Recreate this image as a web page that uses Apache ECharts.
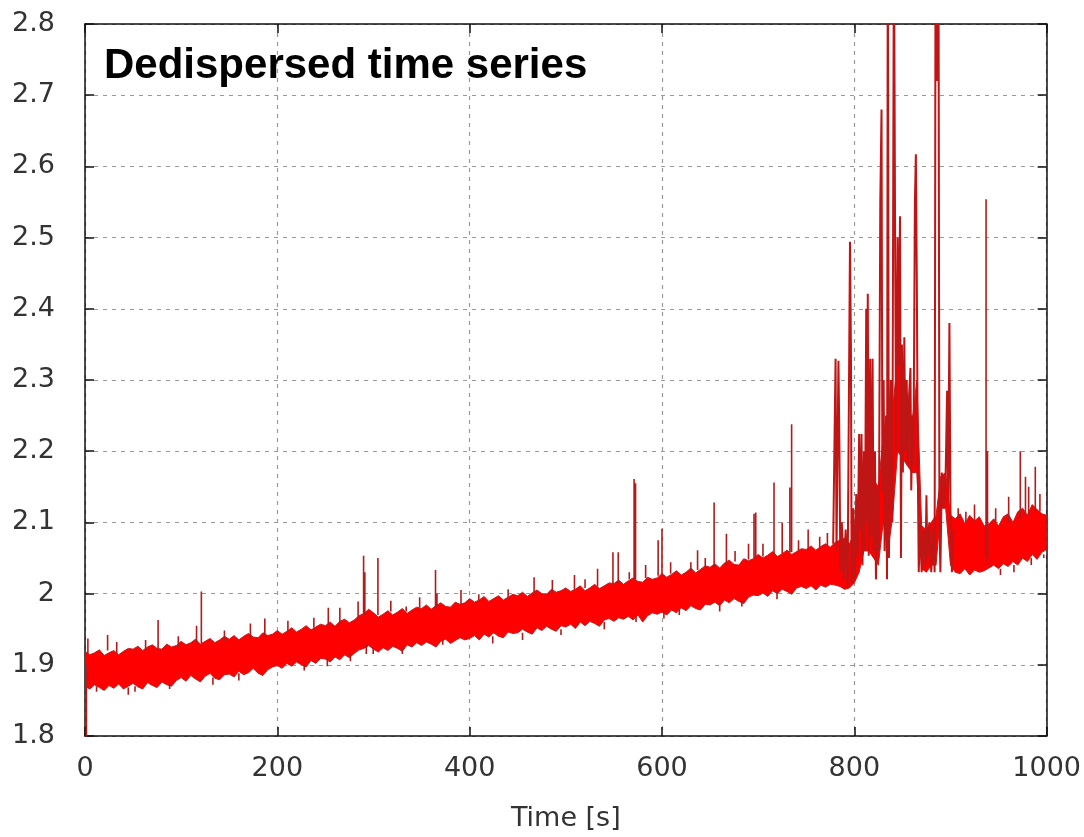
<!DOCTYPE html>
<html><head><meta charset="utf-8">
<script src="https://cdn.jsdelivr.net/npm/echarts@6/dist/echarts.min.js"></script>
<style>html,body{margin:0;padding:0;background:#fff}#c{width:1084px;height:837px}</style>
</head><body><div id="c"></div>
<script>
// ---- data ----
const xTicks = [0, 200, 400, 600, 800, 1000];
const yTicks = [1.8, 1.9, 2.0, 2.1, 2.2, 2.3, 2.4, 2.5, 2.6, 2.7, 2.8];
const bandStep = 5; // seconds between envelope samples, t = 0..1000
const bandHi = [
 1.919,1.914,1.917,1.921,1.913,1.917,1.920,1.914,1.919,1.923,
 1.922,1.926,1.920,1.925,1.928,1.923,1.922,1.929,1.925,1.927,
 1.933,1.928,1.931,1.936,1.929,1.933,1.937,1.931,1.935,1.940,
 1.936,1.941,1.935,1.940,1.944,1.939,1.938,1.945,1.941,1.943,
 1.948,1.943,1.947,1.952,1.946,1.950,1.955,1.949,1.953,1.957,
 1.955,1.960,1.954,1.961,1.964,1.959,1.963,1.969,1.972,1.978,
 1.973,1.967,1.971,1.976,1.970,1.974,1.979,1.972,1.977,1.981,
 1.979,1.984,1.978,1.983,1.987,1.982,1.981,1.988,1.985,1.987,
 1.993,1.988,1.991,1.996,1.989,1.993,1.997,1.991,1.995,1.999,
 1.997,2.002,1.996,2.001,2.005,2.000,1.999,2.006,2.002,2.004,
 2.008,2.003,2.006,2.011,2.004,2.008,2.013,2.007,2.011,2.015,
 2.014,2.019,2.013,2.018,2.022,2.017,2.016,2.023,2.020,2.022,
 2.028,2.023,2.027,2.032,2.026,2.030,2.036,2.029,2.034,2.039,
 2.037,2.042,2.036,2.043,2.047,2.041,2.040,2.049,2.046,2.049,
 2.055,2.050,2.054,2.059,2.052,2.056,2.061,2.055,2.059,2.063,
 2.062,2.067,2.061,2.066,2.070,2.065,2.072,2.075,2.078,2.070,
 2.085,2.120,2.150,2.180,2.160,2.150,2.220,2.200,2.260,2.330,
 2.320,2.280,2.240,2.300,2.095,2.090,2.100,2.110,2.165,2.170,
 2.110,2.105,2.112,2.098,2.110,2.102,2.108,2.095,2.098,2.105,
 2.095,2.108,2.112,2.100,2.115,2.120,2.110,2.125,2.118,2.112,
 2.110
];
const bandLo = [
 1.870,1.866,1.872,1.868,1.864,1.871,1.867,1.873,1.866,1.870,
 1.874,1.869,1.866,1.875,1.871,1.868,1.876,1.872,1.870,1.878,
 1.882,1.877,1.885,1.880,1.876,1.884,1.888,1.881,1.879,1.886,
 1.887,1.883,1.891,1.886,1.889,1.895,1.888,1.885,1.893,1.897,
 1.899,1.895,1.902,1.898,1.904,1.900,1.897,1.906,1.902,1.909,
 1.908,1.904,1.911,1.907,1.914,1.910,1.916,1.921,1.923,1.927,
 1.922,1.918,1.924,1.920,1.926,1.923,1.919,1.928,1.925,1.931,
 1.927,1.932,1.929,1.925,1.933,1.936,1.930,1.934,1.938,1.935,
 1.937,1.941,1.935,1.943,1.939,1.945,1.940,1.938,1.946,1.944,
 1.945,1.950,1.946,1.943,1.952,1.948,1.954,1.950,1.947,1.955,
 1.953,1.957,1.951,1.960,1.955,1.961,1.958,1.954,1.963,1.965,
 1.961,1.966,1.964,1.968,1.963,1.970,1.960,1.969,1.973,1.971,
 1.974,1.970,1.977,1.973,1.980,1.976,1.983,1.979,1.977,1.985,
 1.984,1.988,1.983,1.991,1.987,1.993,1.989,1.986,1.995,1.998,
 1.997,2.001,1.996,2.004,2.000,2.006,2.003,1.999,2.008,2.010,
 2.007,2.011,2.005,2.012,2.009,2.013,2.012,2.010,2.006,2.008,
 2.015,2.030,2.060,2.060,2.050,2.040,2.100,2.060,2.110,2.200,
 2.190,2.180,2.170,2.170,2.035,2.030,2.040,2.040,2.120,2.120,
 2.040,2.030,2.028,2.035,2.026,2.033,2.030,2.032,2.036,2.040,
 2.035,2.042,2.038,2.045,2.040,2.050,2.045,2.055,2.048,2.058,
 2.062
];
// isolated spikes: time, value where the stroke starts, value where it ends
const spikeT = [1.5,3,12,23.5,33,45,52,63,76,88,97,116,121,133,145,160,172,187,211,228,238,252,253,265,276,284,289.7,291,292.5,299.7,304.6,318,330,334,348,364.5,366,372,391,409.5,424,440,455,467,486,495,509,520,533,540,549,554.5,566,571,572.5,573,583,596,600,602,609,618,630,637,645,654.2,660,667,676,683,690,695.7,697.5,705,716.5,719.6,725,733,734.8,742,752,764,772,908,916,925,937,938.5,947,952,960.5,966,972.6,978,981.3,984,988.2,993,997];
const spikeFrom = [1.90,1.915,1.87,1.92,1.915,1.868,1.87,1.92,1.922,1.875,1.925,1.93,1.93,1.882,1.932,1.888,1.938,1.94,1.946,1.90,1.952,1.91,1.955,1.958,1.915,1.965,1.97,1.97,1.93,1.925,1.97,1.975,1.925,1.975,1.98,1.98,1.98,1.935,1.985,1.99,1.94,1.995,1.945,1.997,2.0,1.95,2.005,2.008,2.01,1.96,2.012,2.014,2.02,2.02,2.02,1.97,2.022,2.025,2.025,1.975,2.028,1.978,2.032,2.033,2.035,2.036,1.985,2.04,2.045,1.99,2.048,2.05,2.05,2.052,2.054,2.003,2.056,2.058,2.058,2.06,2.062,2.065,2.068,2.105,2.10,2.10,2.05,2.04,2.10,2.035,2.10,2.04,2.105,2.11,2.11,2.05,2.115,2.115,2.055];
const spikeTo = [1.78,1.937,1.862,1.942,1.932,1.858,1.862,1.935,1.963,1.866,1.94,1.955,2.003,1.872,1.948,1.878,1.958,1.965,1.962,1.892,1.966,1.898,1.98,1.98,1.905,1.989,2.053,2.03,1.915,1.915,2.05,1.99,1.915,1.982,1.995,2.033,2.0,1.928,2.005,1.999,1.93,2.006,1.935,2.023,2.019,1.942,2.026,2.02,2.035,1.95,2.058,2.058,2.03,2.161,2.155,1.96,2.04,2.075,2.091,1.965,2.044,1.97,2.044,2.061,2.05,2.128,1.975,2.084,2.06,1.982,2.07,2.112,2.114,2.07,2.156,1.992,2.10,2.149,2.238,2.075,2.09,2.08,2.085,2.12,2.115,2.125,2.554,2.20,2.12,2.026,2.136,2.03,2.2,2.164,2.15,2.04,2.178,2.14,2.05];
// burst section traced as one continuous stroke
const burstT = [778,780.5,781.5,783.5,784.5,785.5,787,789,791,793,795.5,796.5,797.2,799,800.5,802,803.5,805,806,807.5,808.5,810,811,812.4,813.2,814,815,816.5,817.5,819,820,821.5,822.5,824,825.5,827,828.3,829.2,830.5,831.5,833,834,834.8,836,838,839.5,841.2,842.5,843.5,845,846,847.5,848.5,849.5,850.5,852,853,854.5,855.5,857,858.4,859.2,860.5,861.5,863,864,865,866,867,868.5,870,872,874,875,876,878,880,882,883.5,884.5,886,887.5,888.5,889.5,891,893,895,896.5,897.5,898.9,900,901.5,903];
const burstV = [2.07,2.33,2.06,2.327,2.21,2.03,2.10,2.02,2.09,2.01,2.494,2.34,2.015,2.12,2.02,2.14,2.05,2.224,2.09,2.224,2.04,2.20,2.06,2.40,2.10,2.421,2.053,2.33,2.08,2.33,2.06,2.20,2.02,2.15,2.06,2.55,2.68,2.144,2.30,2.06,2.25,2.02,2.95,2.05,2.30,2.10,2.95,2.47,2.20,2.50,2.32,2.53,2.05,2.35,2.17,2.36,2.20,2.30,2.18,2.28,2.317,2.145,2.25,2.18,2.55,2.617,2.44,2.18,2.03,2.10,2.03,2.09,2.04,2.138,2.05,2.10,2.03,2.09,2.03,2.95,2.72,2.95,2.10,2.03,2.17,2.12,2.17,2.285,2.13,2.38,2.12,2.03,2.09];

// ---- build ----
const bandT = bandHi.map((_, i) => i * bandStep);
const spikeData = [];
spikeT.forEach((t, i) => { spikeData.push([t, spikeFrom[i]], [t, spikeTo[i]], [t, '-']); });
const font = 'DejaVu Sans';
const chart = echarts.init(document.getElementById('c'), null, {renderer: 'canvas'});
const edge = '#c41a1a';
const axisCommon = (pos) => ({
  type: 'value', position: pos,
  axisLine: {show: true, onZero: false, lineStyle: {color: '#111', width: 1.5}},
  axisTick: {show: true, inside: true, length: 9, lineStyle: {color: '#111', width: 1.5}}
});
chart.setOption({
  animation: false,
  backgroundColor: '#fff',
  title: {text: 'Dedispersed time series', left: 99, top: 40,
    textStyle: {fontSize: 42, fontWeight: 'bold', color: '#000', fontFamily: 'Liberation Sans'}},
  grid: {left: 85, right: 36, top: 24, bottom: 97},
  xAxis: [Object.assign(axisCommon('bottom'), {
    min: xTicks[0], max: xTicks[xTicks.length - 1], interval: 200,
    axisLabel: {fontSize: 27, color: '#333', margin: 19, fontFamily: font, formatter: v => String(v)},
    splitLine: {show: true, lineStyle: {color: '#999', width: 1.2, type: [4, 5]}},
    name: 'Time [s]', nameLocation: 'middle', nameGap: 69,
    nameTextStyle: {fontSize: 27, color: '#333', fontFamily: font}
  }), Object.assign(axisCommon('top'), {
    min: xTicks[0], max: xTicks[xTicks.length - 1], interval: 200,
    axisLabel: {show: false}, splitLine: {show: false}
  })],
  yAxis: [Object.assign(axisCommon('left'), {
    min: yTicks[0], max: yTicks[yTicks.length - 1], interval: 0.1,
    axisLabel: {fontSize: 27, color: '#333', margin: 30, fontFamily: font},
    splitLine: {show: true, lineStyle: {color: '#999', width: 1.2, type: [4, 5]}}
  }), Object.assign(axisCommon('right'), {
    min: yTicks[0], max: yTicks[yTicks.length - 1], interval: 0.1,
    axisLabel: {show: false}, splitLine: {show: false}
  })],
  series: [{
    type: 'custom', silent: true, z: 2,
    data: [[0]],
    renderItem: function (params, api) {
      const pts = [];
      bandT.forEach((t, i) => pts.push(api.coord([t, bandHi[i]])));
      for (let i = bandT.length - 1; i >= 0; i--) pts.push(api.coord([bandT[i], bandLo[i]]));
      return {type: 'polygon', shape: {points: pts}, style: {fill: '#ff0000', stroke: null}};
    }
  }, {
    type: 'line', symbol: 'none', silent: true, z: 3,
    data: bandT.map((t, i) => [t, bandHi[i]]),
    lineStyle: {color: edge, width: 1}
  }, {
    type: 'line', symbol: 'none', silent: true, z: 3,
    data: bandT.map((t, i) => [t, bandLo[i]]),
    lineStyle: {color: edge, width: 1}
  }, {
    type: 'line', symbol: 'none', silent: true, connectNulls: false, z: 4,
    data: spikeData,
    lineStyle: {color: '#b01c1c', width: 1.6}
  }, {
    type: 'line', symbol: 'none', silent: true, z: 4,
    data: burstT.map((t, i) => [t, burstV[i]]),
    lineStyle: {color: '#c01515', width: 2}
  }]
});
</script></body></html>
